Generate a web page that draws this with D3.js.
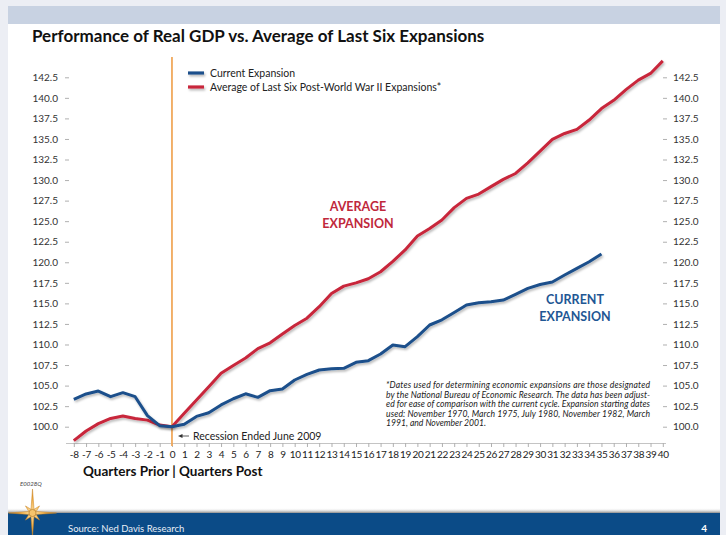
<!DOCTYPE html>
<html>
<head>
<meta charset="utf-8">
<script src="https://cdn.jsdelivr.net/npm/d3@7/dist/d3.min.js"></script>
<style>
  html, body { margin: 0; padding: 0; background: #eceef4; }
  svg { display: block; font-family: Lato, "Open Sans", "DejaVu Sans", sans-serif; }
</style>
</head>
<body>
<svg id="chart" width="726" height="535"></svg>
<script>
// Quarters relative to the June 2009 trough
const quarters = [-8,-7,-6,-5,-4,-3,-2,-1,0,1,2,3,4,5,6,7,8,9,10,11,12,13,14,15,16,17,18,19,20,
  21,22,23,24,25,26,27,28,29,30,31,32,33,34,35,36,37,38,39,40];

// Real GDP indexed to 100 at the trough, current cycle (quarters -8 .. 35)
const currentValues = [103.33,103.98,104.34,103.65,104.14,103.65,101.34,100.12,100.0,100.3,
  101.25,101.7,102.65,103.4,104.0,103.57,104.38,104.58,105.68,106.37,106.9,107.05,107.1,107.83,
  108.03,108.84,109.93,109.73,110.95,112.37,113.0,113.9,114.8,115.08,115.2,115.4,116.1,116.83,
  117.3,117.6,118.45,119.26,120.06,121.0];

// Average of the last six post-war expansions (quarters -8 .. 40)
const averageValues = [98.3,99.48,100.37,101.0,101.3,101.0,100.8,100.2,100.0,101.63,103.25,
  104.87,106.5,107.45,108.35,109.5,110.2,111.27,112.3,113.2,114.6,116.2,117.1,117.5,118.0,118.85,
  120.1,121.5,123.2,124.1,125.15,126.65,127.77,128.3,129.2,130.08,130.8,132.1,133.52,134.95,
  135.67,136.16,137.3,138.7,139.7,141.0,142.15,142.97,144.5];

const yTicks = [100,102.5,105,107.5,110,112.5,115,117.5,120,122.5,125,127.5,130,132.5,135,137.5,140,142.5];

const seriesNames = ["Current Expansion", "Average of Last Six Post-World War II Expansions*"];
const seriesColors = ["#1b4f8b", "#c8263b"];

const footnoteLines = [
  "*Dates used for determining economic expansions are those designated",
  "by the National Bureau of Economic Research. The data has been adjust-",
  "ed for ease of comparison with the current cycle. Expansion starting dates",
  "used: November 1970, March 1975, July 1980, November 1982, March",
  "1991, and November 2001."
];

const svg = d3.select("#chart");
const defs = svg.append("defs");

// soft shadow under the series lines (user-space region so flat lines keep it)
const shadow = defs.append("filter").attr("id", "lineShadow").attr("filterUnits", "userSpaceOnUse")
  .attr("x", 0).attr("y", 0).attr("width", 726).attr("height", 535);
shadow.append("feDropShadow").attr("dx", 1.2).attr("dy", 1.8).attr("stdDeviation", 1.1)
  .attr("flood-color", "#000").attr("flood-opacity", 0.28);

const barShade = defs.append("linearGradient").attr("id", "barShade")
  .attr("x1", 0).attr("y1", 0).attr("x2", 0).attr("y2", 1);
barShade.append("stop").attr("offset", "0%").attr("stop-color", "#ffffff").attr("stop-opacity", 0);
barShade.append("stop").attr("offset", "100%").attr("stop-color", "#8a8a8a").attr("stop-opacity", 1);

const starGold = defs.append("radialGradient").attr("id", "starGold");
starGold.append("stop").attr("offset", "0%").attr("stop-color", "#fde2a6");
starGold.append("stop").attr("offset", "55%").attr("stop-color", "#f2ae45");
starGold.append("stop").attr("offset", "100%").attr("stop-color", "#e0952c");

// page frame
svg.append("rect").attr("x", 8).attr("y", 6).attr("width", 712).attr("height", 18).attr("fill", "#c8d2e2");
svg.append("rect").attr("x", 8).attr("y", 24).attr("width", 712).attr("height", 489).attr("fill", "#ffffff");
svg.append("rect").attr("x", 8).attr("y", 508).attr("width", 712).attr("height", 5).attr("fill", "url(#barShade)");
svg.append("rect").attr("x", 8).attr("y", 513).attr("width", 712).attr("height", 22).attr("fill", "#0b4b87");

svg.append("text").attr("x", 32).attr("y", 42)
  .attr("font-size", 17).attr("font-weight", 700).attr("fill", "#111")
  .text("Performance of Real GDP vs. Average of Last Six Expansions");

// scales
const x = d3.scaleLinear().domain([-8, 40]).range([73.8, 662.8]);
const y = d3.scaleLinear().domain([100, 142.5]).range([426.7, 77.3]);

// y axes on both sides
const fmt = d3.format(".1f");
const leftAxis = svg.append("g").attr("transform", "translate(69,0)")
  .call(d3.axisLeft(y).tickValues(yTicks).tickFormat(fmt).tickSizeInner(4).tickSizeOuter(0).tickPadding(7));
const rightAxis = svg.append("g").attr("transform", "translate(663,0)")
  .call(d3.axisRight(y).tickValues(yTicks).tickFormat(fmt).tickSizeInner(4).tickSizeOuter(0).tickPadding(6));
[leftAxis, rightAxis].forEach(g => {
  g.select(".domain").remove();
  g.selectAll(".tick line").attr("stroke", "#b0b0b0");
  g.selectAll(".tick text").attr("font-size", 10).attr("fill", "#333").attr("font-family", "Lato, 'Open Sans', sans-serif");
});

// x axis
const xAxis = svg.append("g").attr("transform", "translate(0,443)")
  .call(d3.axisBottom(x).tickValues(quarters).tickFormat(d => String(d)).tickSizeInner(4).tickSizeOuter(0).tickPadding(4));
xAxis.select(".domain").attr("d", "M66,0.5H666").attr("stroke", "#c4c4c4");
xAxis.selectAll(".tick line").attr("stroke", "#b0b0b0");
xAxis.selectAll(".tick text").attr("font-size", 10).attr("fill", "#222")
  .attr("font-family", "Lato, 'Open Sans', sans-serif").attr("letter-spacing", -0.3);

// trough marker
svg.append("line").attr("x1", x(0)).attr("x2", x(0)).attr("y1", 57).attr("y2", 446)
  .attr("stroke", "#f0a95c").attr("stroke-width", 1.8);

// series lines
const line = d3.line().x(d => x(d[0])).y(d => y(d[1]));
const currentPts = currentValues.map((v, i) => [quarters[i], v]);
const averagePts = averageValues.map((v, i) => [quarters[i], v]);

svg.append("path").datum(averagePts).attr("d", line)
  .attr("fill", "none").attr("stroke", seriesColors[1]).attr("stroke-width", 3)
  .attr("stroke-linejoin", "round").attr("filter", "url(#lineShadow)");
svg.append("path").datum(currentPts).attr("d", line)
  .attr("fill", "none").attr("stroke", seriesColors[0]).attr("stroke-width", 3)
  .attr("stroke-linejoin", "round").attr("filter", "url(#lineShadow)");

// legend
const legend = svg.append("g");
seriesNames.forEach((name, i) => {
  const ly = 73 + i * 14;
  legend.append("line").attr("x1", 188).attr("x2", 204).attr("y1", ly).attr("y2", ly)
    .attr("stroke", seriesColors[i]).attr("stroke-width", 3.2).attr("filter", "url(#lineShadow)");
  legend.append("text").attr("x", 210).attr("y", ly + 3.5).attr("font-size", 10.5).attr("fill", "#222").text(name);
});

// in-chart series labels
const avgLabel = svg.append("text").attr("text-anchor", "middle").attr("font-size", 12.5)
  .attr("font-weight", 700).attr("fill", "#c0283c");
avgLabel.append("tspan").attr("x", 358).attr("y", 211).text("AVERAGE");
avgLabel.append("tspan").attr("x", 358).attr("y", 228).text("EXPANSION");

const curLabel = svg.append("text").attr("text-anchor", "middle").attr("font-size", 12.5)
  .attr("font-weight", 700).attr("fill", "#1f5794");
curLabel.append("tspan").attr("x", 575).attr("y", 304).text("CURRENT");
curLabel.append("tspan").attr("x", 575).attr("y", 321).text("EXPANSION");

// footnote, justified
const foot = svg.append("g").attr("font-size", 8.6).attr("font-style", "italic").attr("fill", "#222");
footnoteLines.forEach((t, i) => {
  const tx = foot.append("text").attr("x", 386).attr("y", 388 + i * 9.6).text(t);
  if (i < footnoteLines.length - 1) tx.attr("textLength", 264).attr("lengthAdjust", "spacing");
});

// recession annotation
svg.append("line").attr("x1", 181).attr("x2", 189).attr("y1", 436).attr("y2", 436)
  .attr("stroke", "#333").attr("stroke-width", 0.8);
svg.append("path").attr("d", "M178,436 L182.5,434 L182.5,438 Z").attr("fill", "#333");
svg.append("text").attr("x", 193).attr("y", 439.5).attr("font-size", 10.5).attr("fill", "#222")
  .text("Recession Ended June 2009");

// axis caption
svg.append("text").attr("x", 83).attr("y", 476).attr("font-size", 13.5).attr("font-weight", 700)
  .attr("fill", "#111").text("Quarters Prior | Quarters Post");

svg.append("text").attr("x", 20).attr("y", 486).attr("font-size", 6).attr("font-style", "italic")
  .attr("fill", "#444").text("E0028Q");

// compass star emblem
const star = svg.append("g").attr("transform", "translate(32.5,513)");
const pts = [];
for (let k = 0; k < 8; k++) {
  const a = -Math.PI / 2 + k * Math.PI / 4;
  const len = k % 2 === 0 ? 24 : 10;
  pts.push([Math.cos(a) * len, Math.sin(a) * len]);
  const b = a + Math.PI / 8;
  pts.push([Math.cos(b) * 4, Math.sin(b) * 4]);
}
star.append("path").attr("d", "M" + pts.map(p => p.join(",")).join("L") + "Z")
  .attr("fill", "url(#starGold)").attr("stroke", "#c98222").attr("stroke-width", 0.5);
star.append("circle").attr("r", 3.6).attr("fill", "#f6c46c").attr("stroke", "#a86a1a").attr("stroke-width", 0.6);

// footer
svg.append("text").attr("x", 68).attr("y", 532).attr("font-size", 9.5).attr("fill", "#e8eef6")
  .text("Source: Ned Davis Research");
svg.append("text").attr("x", 707).attr("y", 532).attr("text-anchor", "end").attr("font-size", 10)
  .attr("font-weight", 700).attr("fill", "#ffffff").text("4");
</script>
</body>
</html>
